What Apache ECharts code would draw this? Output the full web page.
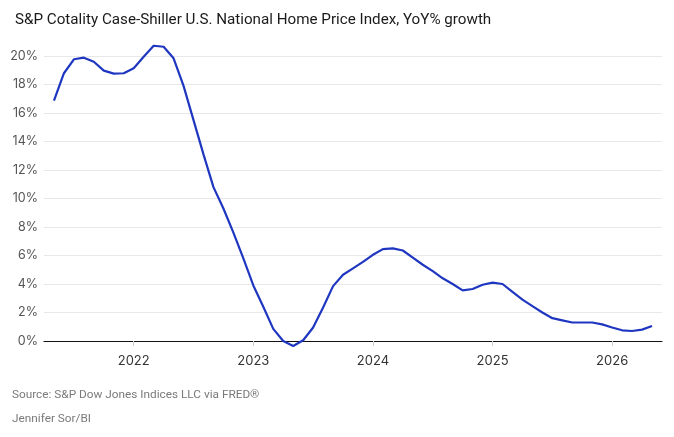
<!DOCTYPE html>
<html>
<head>
<meta charset="utf-8">
<script src="https://cdn.jsdelivr.net/npm/echarts@6/dist/echarts.min.js"></script>
<style>
    html, body { margin: 0; padding: 0; background: #fff; }
    #chart { width: 674px; height: 437px; }
</style>
</head>
<body>
<div id="chart"></div>
<script>
    // 月度 YoY% 数据
    var values2021 = [null, 16.86, 18.79, 19.77, 19.88, 19.60, 18.97, 18.76, 18.79];   // 2021-04 .. 2021-12
    var values2022 = [19.14, 19.95, 20.72, 20.65, 19.84, 17.9, 15.5, 13.1, 10.8, 9.3, 7.6, 5.8];
    var values2023 = [3.9, 2.4, 0.85, 0.0, -0.35, 0.05, 0.95, 2.35, 3.85, 4.65, 5.1, 5.55];
    var values2024 = [6.05, 6.45, 6.5, 6.35, 5.85, 5.35, 4.9, 4.4, 4.0, 3.55, 3.65, 3.95];
    var values2025 = [4.1, 4.0, 3.45, 2.9, 2.45, 2.0, 1.6, 1.45, 1.3, 1.3, 1.3, 1.17];
    var values2026 = [0.95, 0.75, 0.7, 0.8, 1.05, null];                               // 2026-01 .. 2026-06

    var yTicks = [0, 2, 4, 6, 8, 10, 12, 14, 16, 18, 20];

    var titleText = 'S&P Cotality Case-Shiller U.S. National Home Price Index, YoY% growth';
    var sourceText = 'Source: S&P Dow Jones Indices LLC via FRED\u00AE';
    var creditText = 'Jennifer Sor/BI';

    // 月份类目 2021-04 .. 2026-06
    var months = [];
    for (var y = 2021; y <= 2026; y++) {
        for (var m = 1; m <= 12; m++) {
            if (y == 2021 && m < 4) continue;
            if (y == 2026 && m > 6) break;
            months.push(y + '-' + (m < 10 ? '0' + m : m));
        }
    }
    var yoyData = [].concat(values2021, values2022, values2023, values2024, values2025, values2026);

    var font = 'Inter, "Noto Sans", sans-serif';
    var titleFont = 'Roboto, Inter, sans-serif';
    var isJan = function (idx, val) { return val.slice(5) === '01'; };

    var chart = echarts.init(document.getElementById('chart'), null, {renderer: 'canvas'});

    var option = {
        animation: false,
        backgroundColor: '#fff',
        textStyle: {fontFamily: font},
        title: {
            text: titleText,
            left: 10,
            top: 8,
            textStyle: {fontFamily: titleFont, fontSize: 15.2, fontWeight: 'normal', color: '#1a1a1a'}
        },
        graphic: [
            {type: 'text', left: 12, top: 389, style: {text: sourceText, font: '11.8px ' + titleFont, fill: '#7a7a7a'}},
            {type: 'text', left: 12, top: 413, style: {text: creditText, font: '11.8px ' + titleFont, fill: '#7a7a7a'}}
        ],
        grid: {left: 44, right: 12, top: 56, bottom: 96, containLabel: false},
        xAxis: {
            type: 'category',
            data: months,
            boundaryGap: false,
            axisLine: {lineStyle: {color: '#111', width: 1.2}},
            axisTick: {show: true, interval: isJan, length: 5, lineStyle: {color: '#d0d0d0'}},
            axisLabel: {
                interval: isJan,
                formatter: function (val) { return val.slice(0, 4); },
                color: '#333', fontSize: 13, margin: 14, fontFamily: font
            },
            splitLine: {show: false}
        },
        yAxis: {
            type: 'value',
            min: yTicks[0],
            max: yTicks[yTicks.length - 1],
            interval: 2,
            axisLine: {show: false},
            axisTick: {show: false},
            axisLabel: {
                formatter: function (v) { return v + '%'; },
                color: '#555', fontSize: 12.5, margin: 6, fontFamily: font
            },
            splitLine: {lineStyle: {color: '#e8e8e8', width: 1}}
        },
        series: [{
            type: 'line',
            data: yoyData,
            clip: false,
            showSymbol: false,
            symbol: 'none',
            connectNulls: false,
            lineStyle: {color: '#1f37c0', width: 2.2},
            z: 5
        }]
    };

    chart.setOption(option);
</script>
</body>
</html>
